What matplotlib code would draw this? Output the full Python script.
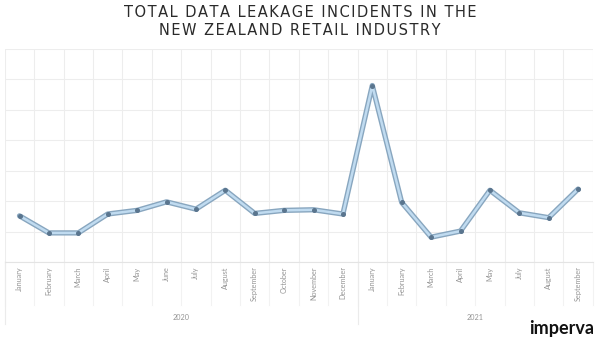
import matplotlib
matplotlib.use('Agg')
import matplotlib.pyplot as plt
import matplotlib.transforms as mtransforms

# incidents per month (no axis scale shown)
months_2020 = ['January', 'February', 'March', 'April', 'May', 'June', 'July',
               'August', 'September', 'October', 'November', 'December']
months_2021 = ['January', 'February', 'March', 'April', 'May', 'July', 'August', 'September']
values_2020 = [7.6, 4.8, 4.8, 7.9, 8.5, 9.9, 8.7, 11.8, 8.0, 8.5, 8.6, 7.9]
values_2021 = [29.0, 9.8, 4.1, 5.1, 11.8, 8.1, 7.3, 12.0]
years = ['2020', '2021']
title_lines = ['TOTAL DATA LEAKAGE INCIDENTS IN THE', 'NEW ZEALAND RETAIL INDUSTRY']

labels = months_2020 + months_2021
values = values_2020 + values_2021
x = list(range(len(values)))


def spaced(s):
    # fake letter spacing with hair spaces
    return '\u200a'.join(s)


fig = plt.figure(figsize=(6, 3.4), dpi=100)
ax = fig.add_axes([0.008, 0.229, 0.98, 0.627])

ax.plot(x, values, color='#88a6bf', lw=3.8, solid_capstyle='round', solid_joinstyle='round', zorder=3)
ax.plot(x, values, color='#c0dbf0', lw=1.8, solid_capstyle='round', solid_joinstyle='round', zorder=4)
ax.plot(x, values, 'o', color='#5a758e', ms=2.6, zorder=5)

ax.set_xlim(-0.5, len(values) - 0.5)
ax.set_ylim(0, 35)
ax.set_yticks(range(0, 36, 5))
ax.set_xticks([i - 0.5 for i in range(len(values) + 1)])
ax.tick_params(length=0, labelbottom=False, labelleft=False)
ax.grid(True, color='#ededed', lw=0.8)
for s in ax.spines.values():
    s.set_visible(False)
ax.spines['bottom'].set_visible(True)
ax.spines['bottom'].set_color('#e4e4e4')

trans = mtransforms.blended_transform_factory(ax.transData, ax.transAxes)
for i, lab in enumerate(labels):
    ax.text(i, -0.02, lab, transform=trans, rotation=90, ha='center', va='top',
            fontsize=5.2, color='#959595', family='Lato')
    ax.plot([i - 0.5, i - 0.5], [0, -0.2], transform=trans, color='#f2f2f2', lw=0.8, clip_on=False)
ax.plot([len(values) - 0.5] * 2, [0, -0.2], transform=trans, color='#f2f2f2', lw=0.8, clip_on=False)
n20 = len(months_2020)
for xs in [-0.5, n20 - 0.5]:
    ax.plot([xs, xs], [0, -0.29], transform=trans, color='#ebebeb', lw=0.8, clip_on=False)
ax.text((n20 - 1) / 2, -0.26, years[0], transform=trans, ha='center', va='center',
        fontsize=5.2, color='#959595', family='Lato')
ax.text(n20 + (len(months_2021) - 1) / 2, -0.26, years[1], transform=trans, ha='center', va='center',
        fontsize=5.2, color='#959595', family='Lato')

fig.text(0.5, 0.963, spaced(title_lines[0]), ha='center', va='center',
         fontsize=10.5, color='#2a2a2a', family='DejaVu Sans')
fig.text(0.5, 0.91, spaced(title_lines[1]), ha='center', va='center',
         fontsize=10.5, color='#2a2a2a', family='DejaVu Sans')
fig.text(0.99, 0.035, 'imperva', ha='right', va='center', fontsize=13,
         fontweight='bold', color='#111111', family='Lato')

fig.savefig('out.png', dpi=100, facecolor='white')
